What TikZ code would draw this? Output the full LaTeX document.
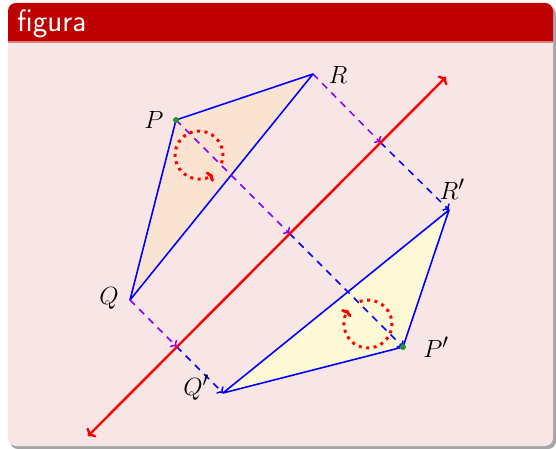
\documentclass[tikz,border=0pt]{standalone}
\usetikzlibrary{arrows.meta,calc}
\definecolor{barred}{RGB}{191,0,0}
\definecolor{bodypink}{RGB}{248,230,230}
\definecolor{peach}{RGB}{251,227,210}
\definecolor{lightyel}{RGB}{253,248,214}
\definecolor{viol}{RGB}{135,0,255}
\definecolor{dotgreen}{RGB}{30,150,40}
\tikzset{
  lbl/.style={font=\fontsize{31}{36}\selectfont, inner sep=0pt},
  tri/.style={draw=blue, line width=1.6pt, line join=round},
  projA/.style={draw=viol, line width=1.5pt, dash pattern=on 7pt off 6pt, -{To[length=5pt,width=10pt]}},
  projB/.style={draw=blue, line width=1.5pt, dash pattern=on 7pt off 6pt, -{To[length=5pt,width=10pt]}},
  axisline/.style={draw=red, line width=2.4pt, {To[length=6pt,width=13pt]}-{To[length=6pt,width=13pt]}},
  rot/.style={draw=red, line width=3pt, dash pattern=on 3pt off 4.5pt, -{To[length=5pt,width=12pt]}},
  gdot/.style={circle, fill=dotgreen, inner sep=0pt, minimum size=6pt}
}
\begin{document}
\begin{tikzpicture}[x=1pt,y=-1pt]
\useasboundingbox (0,0) rectangle (556,449);
% block
\fill[gray!70] (10,6) [rounded corners=8pt] -- (10,449) -- (556,449) -- (556,6) [sharp corners] -- cycle;
\fill[bodypink, rounded corners=8pt] (8,3) rectangle (553,446);
\fill[barred, rounded corners=8pt] (8,3) rectangle (553,50);
\fill[bodypink] (8,42) rectangle (553,52);
\fill[barred!45!bodypink] (8,41) rectangle (553,43);
\node[anchor=base west, text=white, inner sep=0pt, font=\sffamily\fontsize{31}{36}\selectfont] (title) at (17,32) {figura};
% points
\coordinate (P) at (176,120);
\coordinate (R) at (313,74);
\coordinate (Q) at (130,300);
\coordinate (P2) at (403,347);
\coordinate (R2) at (449,210);
\coordinate (Q2) at (223,393);
\coordinate (A1) at (88,436);
\coordinate (A2) at (446,77);
\coordinate (FP) at (289.5,233.5);
\coordinate (FR) at (380.5,142.5);
\coordinate (FQ) at (176.5,346.5);
% triangles
\fill[peach] (P) -- (R) -- (Q) -- cycle;
\fill[lightyel] (P2) -- (R2) -- (Q2) -- cycle;
\draw[tri] (P) -- (R) -- (Q) -- cycle;
\draw[tri] (P2) -- (R2) -- (Q2) -- cycle;
% projections
\draw[projA] (P) -- (FP);
\draw[projA] (R) -- (FR);
\draw[projA] (Q) -- (FQ);
\draw[projB] (FP) -- (P2);
\draw[projB] (FR) -- (R2);
\draw[projB] (FQ) -- (Q2);
% axis
\draw[axisline] (A1) -- (A2);
% rotation markers
\coordinate (C1) at (199,155);
\coordinate (C2) at (368,324);
\draw[rot] ($(C1)+(20:24)$) arc[start angle=20, end angle=-305, radius=24];
\draw[rot] ($(C2)+(-110:24)$) arc[start angle=-110, end angle=215, radius=24];
% dots
\node[gdot] (Pd) at (P) {};
\node[gdot] (P2d) at (P2) {};
% labels
\node[lbl] (lP) at (154,120) {$P$};
\node[lbl] (lR) at (338,75) {$R$};
\node[lbl] (lQ) at (109,298) {$Q$};
\node[lbl] (lP2) at (436,347) {$P'$};
\node[lbl] (lR2) at (452,189) {$R'$};
\node[lbl] (lQ2) at (196,388) {$Q'$};
\end{tikzpicture}
\end{document}
